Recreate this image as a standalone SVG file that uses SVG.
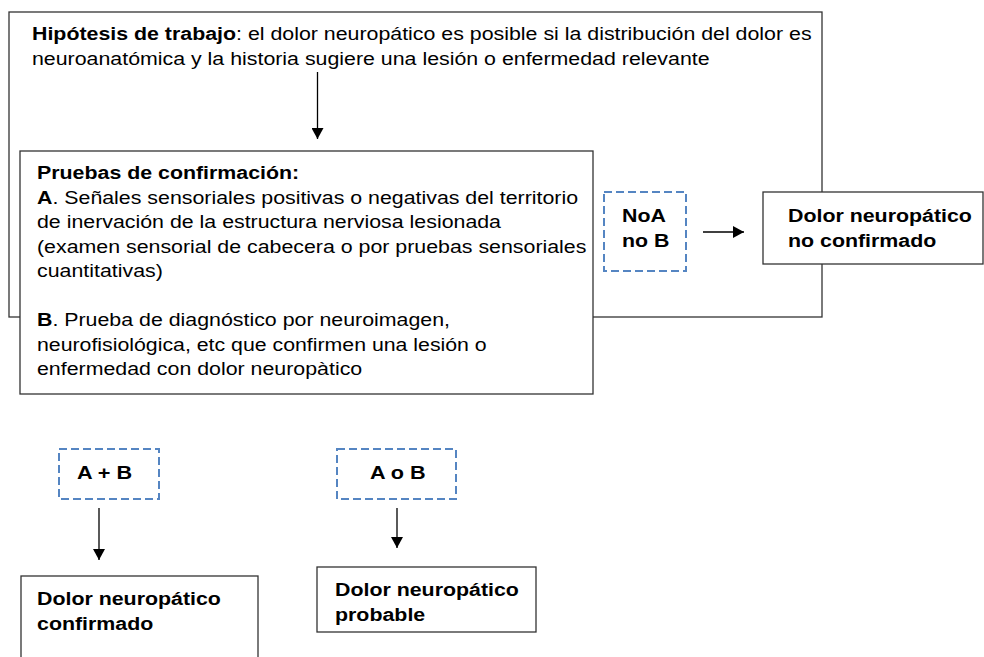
<svg xmlns="http://www.w3.org/2000/svg" width="984" height="657" viewBox="0 0 984 657">
<style>
  text { font-family: "Liberation Sans", Arial, Helvetica, sans-serif; font-size: 17.5px; fill: #000; }
  .b { font-weight: bold; }
  .box { fill: #fff; stroke: #333; stroke-width: 1.3; }
  .dash { fill: #fff; stroke: #5585C2; stroke-width: 2; stroke-dasharray: 8 4; }
  .conn { stroke: #000; stroke-width: 1.3; fill: none; marker-end: url(#arrow); }
</style>
<defs>
  <marker id="arrow" viewBox="0 0 11 12" markerWidth="11" markerHeight="12" refX="11" refY="6" orient="auto" markerUnits="userSpaceOnUse">
    <path d="M0,0 L11,6 L0,12 z" fill="#000"/>
  </marker>
</defs>
<rect width="984" height="657" fill="#fff"/>

<g id="hipotesis">
  <rect class="box" x="9" y="12" width="813" height="305"/>
  <text x="32" y="40" textLength="779.6" lengthAdjust="spacingAndGlyphs"><tspan class="b">Hipótesis de trabajo</tspan>: el dolor neuropático es posible si la distribución del dolor es</text>
  <text x="32" y="65" textLength="677.6" lengthAdjust="spacingAndGlyphs">neuroanatómica y la historia sugiere una lesión o enfermedad relevante</text>
</g>

<g id="pruebas">
  <rect class="box" x="20" y="151" width="573" height="243"/>
  <text x="37" y="178.5" class="b" textLength="262.2" lengthAdjust="spacingAndGlyphs">Pruebas de confirmación:</text>
  <text x="37" y="203.5" textLength="541.1" lengthAdjust="spacingAndGlyphs"><tspan class="b">A</tspan>. Señales sensoriales positivas o negativas del territorio</text>
  <text x="37" y="228" textLength="464" lengthAdjust="spacingAndGlyphs">de inervación de la estructura nerviosa lesionada</text>
  <text x="37" y="252.5" textLength="549.4" lengthAdjust="spacingAndGlyphs">(examen sensorial de cabecera o por pruebas sensoriales</text>
  <text x="37" y="277" textLength="125.8" lengthAdjust="spacingAndGlyphs">cuantitativas)</text>
  <text x="37" y="326" textLength="413" lengthAdjust="spacingAndGlyphs"><tspan class="b">B</tspan>. Prueba de diagnóstico por neuroimagen,</text>
  <text x="37" y="350.5" textLength="449.7" lengthAdjust="spacingAndGlyphs">neurofisiológica, etc que confirmen una lesión o</text>
  <text x="37" y="375" textLength="325.2" lengthAdjust="spacingAndGlyphs">enfermedad con dolor neuropàtico</text>
</g>

<g id="noa">
  <rect class="dash" x="604" y="192" width="82" height="79"/>
  <text x="622" y="222" class="b" textLength="43.9" lengthAdjust="spacingAndGlyphs">NoA</text>
  <text x="622" y="247" class="b" textLength="47.4" lengthAdjust="spacingAndGlyphs">no B</text>
</g>

<g id="no-confirmado">
  <rect class="box" x="763" y="192" width="220" height="72"/>
  <text x="788" y="222" class="b" textLength="183.9" lengthAdjust="spacingAndGlyphs">Dolor neuropático</text>
  <text x="788" y="247" class="b" textLength="148.3" lengthAdjust="spacingAndGlyphs">no confirmado</text>
</g>

<g id="a-mas-b">
  <rect class="dash" x="59" y="449" width="100" height="50"/>
  <text x="77" y="479" class="b" textLength="55.2" lengthAdjust="spacingAndGlyphs">A + B</text>
</g>

<g id="a-o-b">
  <rect class="dash" x="337" y="449" width="119" height="50"/>
  <text x="370" y="479" class="b" textLength="55.7" lengthAdjust="spacingAndGlyphs">A o B</text>
</g>

<g id="confirmado">
  <rect class="box" x="21" y="576" width="237" height="120"/>
  <text x="37" y="605" class="b" textLength="183.9" lengthAdjust="spacingAndGlyphs">Dolor neuropático</text>
  <text x="37" y="630" class="b" textLength="116.3" lengthAdjust="spacingAndGlyphs">confirmado</text>
</g>

<g id="probable">
  <rect class="box" x="317" y="567" width="219" height="65"/>
  <text x="335" y="595.5" class="b" textLength="183.9" lengthAdjust="spacingAndGlyphs">Dolor neuropático</text>
  <text x="335" y="621" class="b" textLength="90.2" lengthAdjust="spacingAndGlyphs">probable</text>
</g>

<g id="connectors">
  <line class="conn" x1="317.5" y1="72" x2="317.5" y2="139"/>
  <line class="conn" x1="703" y1="232" x2="744" y2="232"/>
  <line class="conn" x1="99" y1="508" x2="99" y2="560"/>
  <line class="conn" x1="397" y1="508" x2="397" y2="548"/>
</g>
</svg>
